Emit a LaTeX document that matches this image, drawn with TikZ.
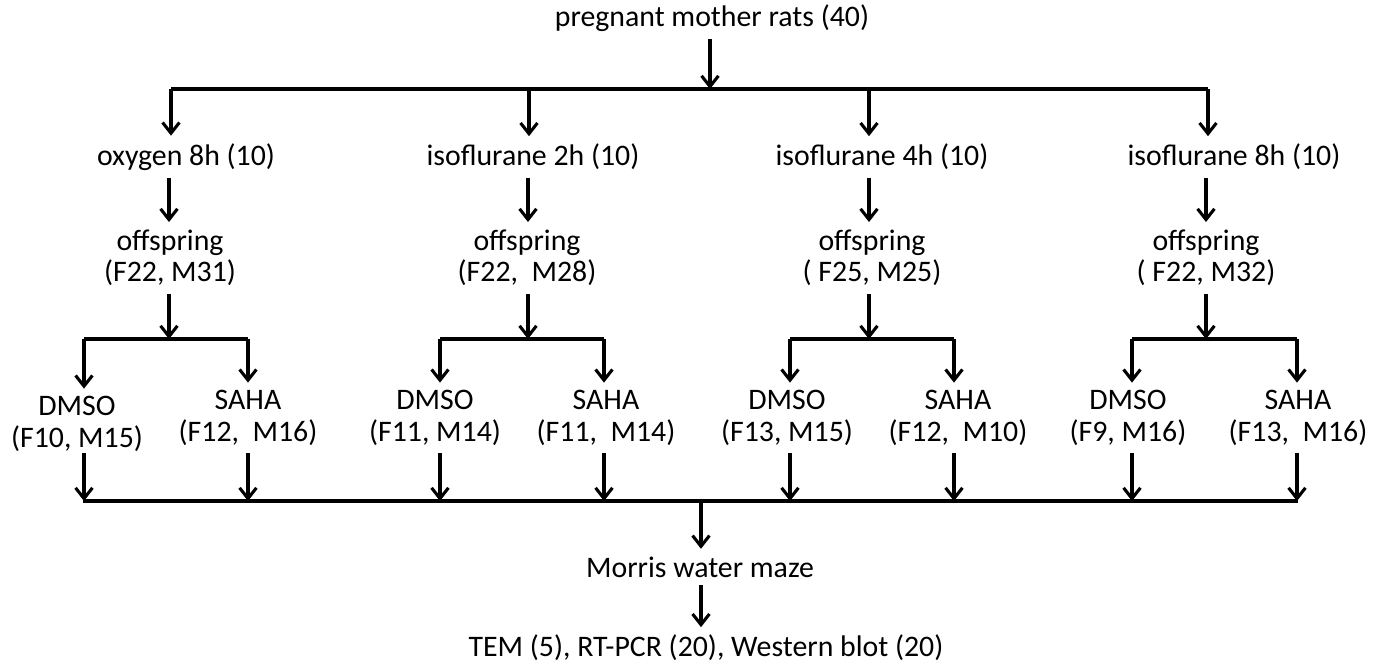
\documentclass[tikz,border=0pt]{standalone}
\usepackage{fontspec}
\setmainfont{Carlito}
\usetikzlibrary{arrows.meta,positioning}

\begin{document}
\begin{tikzpicture}[%
        x=0.0125cm, y=-0.0125cm,
        every node/.style={inner sep=0pt, outer sep=2.8pt, align=center, font=\fontsize{10.6}{11.2}\selectfont},
        line width=1.1pt,
        >={Straight Barb[length=3.8pt,width=6pt]}
      ]
      \useasboundingbox (0,0) rectangle (1384,661);
      \node (rats) at (712,18) {pregnant mother rats (40)};
      \node (grp1) at (186,157) {oxygen 8h (10)};
      \node (grp2) at (533,157) {isoflurane 2h (10)};
      \node (grp3) at (882,157) {isoflurane 4h (10)};
      \node (grp4) at (1234,157) {isoflurane 8h (10)};
      \node (off1) at (170,258) {offspring\\(F22, M31)};
      \node (off2) at (527,258) {offspring\\(F22,\ \ M28)};
      \node (off3) at (872,258) {offspring\\( F25, M25)};
      \node (off4) at (1206,258) {offspring\\( F22, M32)};
      \node (dmso1) at (77,424) {DMSO\\(F10, M15)};
      \node (saha1) at (248,418) {SAHA\\(F12,\ \ M16)};
      \node (dmso2) at (435,418) {DMSO\\(F11, M14)};
      \node (saha2) at (606,418) {SAHA\\(F11,\ \ M14)};
      \node (dmso3) at (787,418) {DMSO\\(F13, M15)};
      \node (saha3) at (958,418) {SAHA\\(F12,\ \ M10)};
      \node (dmso4) at (1128,418) {DMSO\\(F9, M16)};
      \node (saha4) at (1298,418) {SAHA\\(F13,\ \ M16)};
      \node (maze) at (700,567) {Morris water maze};
      \node (tests) at (706,648) {TEM (5), RT-PCR (20), Western blot (20)};
      \coordinate (tbm) at (710,89);
      \coordinate (tb1) at (171,89);
      \coordinate (tb2) at (529,89);
      \coordinate (tb3) at (869,89);
      \coordinate (tb4) at (1208,89);
      \coordinate (sp1) at (169,339);
      \coordinate (sp2) at (528,339);
      \coordinate (sp3) at (869,339);
      \coordinate (sp4) at (1206,339);
      \coordinate (dl1) at (84,339);
      \coordinate (dr1) at (248,339);
      \coordinate (dl2) at (440,339);
      \coordinate (dr2) at (604,339);
      \coordinate (dl3) at (790,339);
      \coordinate (dr3) at (954,339);
      \coordinate (dl4) at (1132,339);
      \coordinate (dr4) at (1297,339);
      \coordinate (bl) at (83,501);
      \coordinate (bm) at (701,501);
      \coordinate (br) at (1298,501);
      \draw (tb1) -- (tb4);
      \draw (dl1) -- (dr1);
      \draw (dl2) -- (dr2);
      \draw (dl3) -- (dr3);
      \draw (dl4) -- (dr4);
      \draw (bl) -- (br);
      \draw[->] (rats.south -| tbm) -- (tbm);
      \draw[->] (tb1) -- (tb1 |- grp1.north);
      \draw[->] (tb2) -- (tb2 |- grp2.north);
      \draw[->] (tb3) -- (tb3 |- grp3.north);
      \draw[->] (tb4) -- (tb4 |- grp4.north);
      \draw[->] (sp1 |- grp1.south) -- (sp1 |- off1.north);
      \draw[->] (sp2 |- grp2.south) -- (sp2 |- off2.north);
      \draw[->] (sp3 |- grp3.south) -- (sp3 |- off3.north);
      \draw[->] (sp4 |- grp4.south) -- (sp4 |- off4.north);
      \draw[->] (sp1 |- off1.south) -- (sp1);
      \draw[->] (sp2 |- off2.south) -- (sp2);
      \draw[->] (sp3 |- off3.south) -- (sp3);
      \draw[->] (sp4 |- off4.south) -- (sp4);
      \draw[->] (dl1) -- (dl1 |- dmso1.north);
      \draw[->] (dr1) -- (dr1 |- saha1.north);
      \draw[->] (dl2) -- (dl2 |- dmso2.north);
      \draw[->] (dr2) -- (dr2 |- saha2.north);
      \draw[->] (dl3) -- (dl3 |- dmso3.north);
      \draw[->] (dr3) -- (dr3 |- saha3.north);
      \draw[->] (dl4) -- (dl4 |- dmso4.north);
      \draw[->] (dr4) -- (dr4 |- saha4.north);
      \draw[->] (dl1 |- saha1.south) -- (dl1 |- bl);
      \draw[->] (dr1 |- saha1.south) -- (dr1 |- bl);
      \draw[->] (dl2 |- dmso2.south) -- (dl2 |- bl);
      \draw[->] (dr2 |- saha2.south) -- (dr2 |- bl);
      \draw[->] (dl3 |- dmso3.south) -- (dl3 |- bl);
      \draw[->] (dr3 |- saha3.south) -- (dr3 |- bl);
      \draw[->] (dl4 |- dmso4.south) -- (dl4 |- bl);
      \draw[->] (dr4 |- saha4.south) -- (dr4 |- bl);
      \draw[->] (bm) -- (bm |- maze.north);
      \draw[->] (bm |- maze.south) -- (bm |- tests.north);
    \end{tikzpicture}
\end{document}
